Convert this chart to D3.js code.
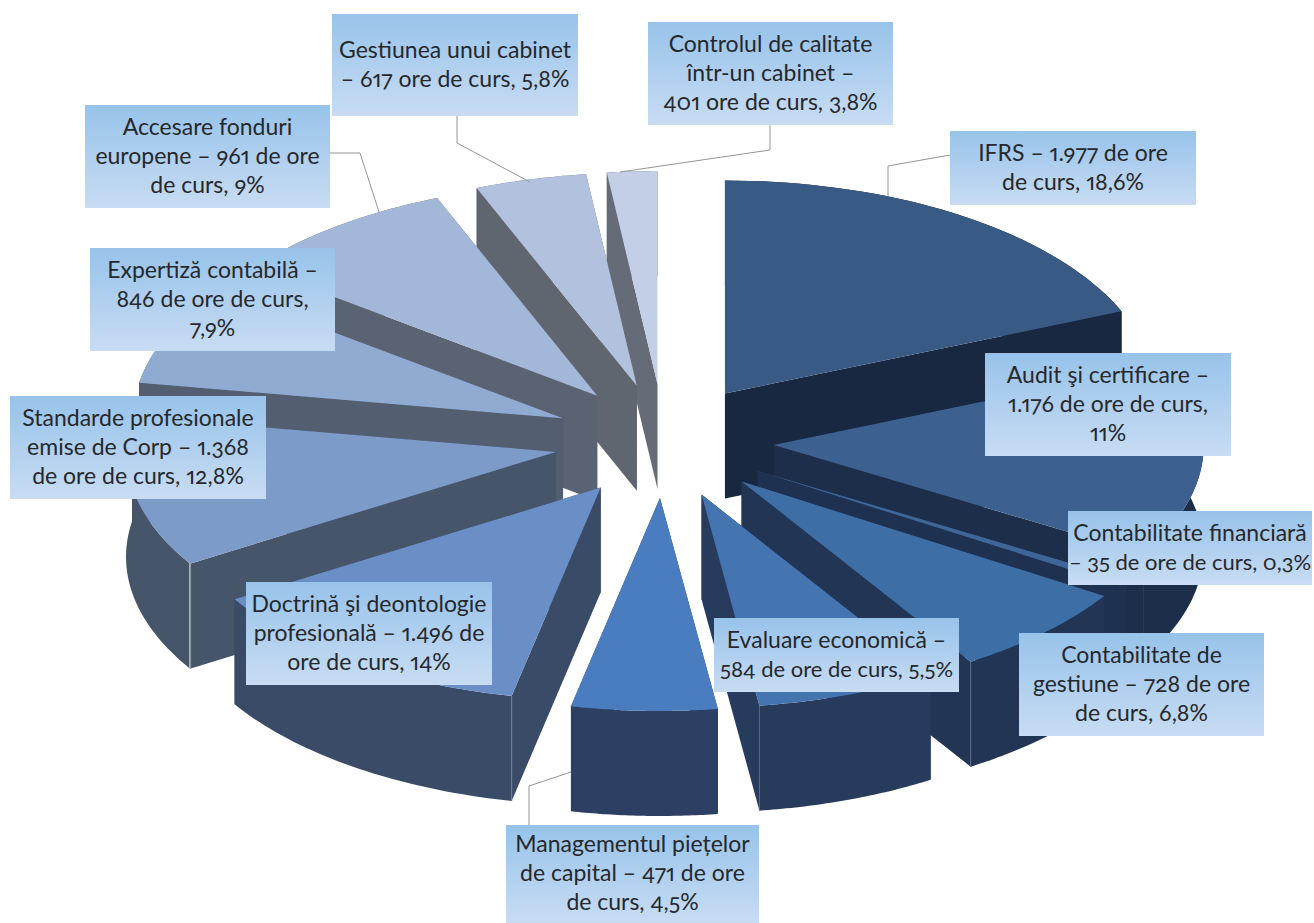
<!DOCTYPE html>
<html>
<head>
<meta charset="utf-8">
<style>
html, body { margin: 0; padding: 0; background: #fff; }
svg { display: block; }
.label text { font-family: Lato, sans-serif; font-size: 23px; fill: #26282c; font-variant-numeric: oldstyle-nums proportional-nums; font-feature-settings: "onum" 1, "pnum" 1; }
</style>
<script src="https://cdn.jsdelivr.net/npm/d3@7"></script>
</head>
<body>
<svg id="chart" width="1314" height="923"></svg>
<script>
// hours per course topic, clockwise from 12 o'clock
var topics = ["IFRS", "Audit", "Contabilitate financiara", "Contabilitate de gestiune", "Evaluare economica",
	"Managementul pietelor", "Doctrina", "Standarde", "Expertiza", "Accesare fonduri", "Gestiunea", "Controlul"];
var hours = [1977, 1176, 35, 728, 584, 471, 1496, 1368, 846, 961, 617, 401];

var labelLines = [
	["IFRS – 1.977 de ore", "de curs, 18,6%"],
	["Audit şi certificare –", "1.176 de ore de curs,", "11%"],
	["Contabilitate financiară", "– 35 de ore de curs, 0,3%"],
	["Contabilitate de", "gestiune – 728 de ore", "de curs, 6,8%"],
	["Evaluare economică –", "584 de ore de curs, 5,5%"],
	["Managementul piețelor", "de capital – 471 de ore", "de curs, 4,5%"],
	["Doctrină şi deontologie", "profesională – 1.496 de", "ore de curs, 14%"],
	["Standarde profesionale", "emise de Corp – 1.368", "de ore de curs, 12,8%"],
	["Expertiză contabilă –", "846 de ore de curs,", "7,9%"],
	["Accesare fonduri", "europene – 961 de ore", "de curs, 9%"],
	["Gestiunea unui cabinet", "– 617 ore de curs, 5,8%"],
	["Controlul de calitate", "într-un cabinet –", "401 ore de curs, 3,8%"]
];

var topColors = ["#385a85", "#3c6090", "#3d6699", "#3e6ea6", "#4475b0", "#4a7dbf", "#6a8ec6", "#7c9bc9", "#90abd1", "#a3b8d8", "#b2c2de", "#c2cfe6"];
var sideColors = ["#172840", "#1d2e4a", "#1f3150", "#223555", "#273b5d", "#2d4063", "#3a4b67", "#465569", "#535e70", "#5a6372", "#5f6670", "#666b78"];

// label box [x, y, w, h]
var labelBoxes = [
	[950, 131, 246, 74], [985, 353, 246, 103], [1068, 511, 244, 74], [1019, 633, 245, 103],
	[714, 618, 245, 74], [506, 825, 253, 98], [246, 582, 246, 103], [10, 396, 256, 103],
	[90, 248, 245, 103], [85, 105, 245, 103], [332, 14, 246, 102], [648, 22, 245, 103]
];
var leaders = [
	[[888, 196], [888, 166], [950, 155]],
	[[457, 116], [457, 143], [530, 182]],
	[[770, 125], [770, 150], [620, 172]],
	[[330, 153], [360, 153], [379, 212]],
	[[571, 772], [529, 786], [529, 825]]
];

var cx = 664, cy = 441, rx = 430, ry = 213, depth = 105;
var explodeX = 110, explodeY = 57;

// the original is drawn in perspective, so pie angles get bent on the way to the ellipse
var lens = d3.scaleLinear()
	.domain([0, 30, 60, 67, 90, 108, 132, 152, 168, 180, 218, 265, 293, 326, 346, 360])
	.range([0, 30, 60.5, 67.5, 97, 123, 147.5, 172.3, 192.1, 203, 238, 280, 307, 338.5, 353, 360]);

var svg = d3.select("#chart");
var defs = svg.append("defs");
var grad = defs.append("linearGradient").attr("id", "boxFill").attr("x1", 0).attr("y1", 0).attr("x2", 0).attr("y2", 1);
grad.append("stop").attr("offset", "0%").attr("stop-color", "#97c3ea");
grad.append("stop").attr("offset", "100%").attr("stop-color", "#c8dcf3");

var pie = d3.pie().sort(null).value(function(d){ return d; });
var deg = 180 / Math.PI;
var slices = pie(hours).map(function(a, i){
	var start = lens(a.startAngle * deg) / deg,
		end = lens(a.endAngle * deg) / deg,
		mid = (start + end) / 2;
	return {
		index: i, start: start, end: end,
		ax: cx + explodeX * Math.sin(mid),
		ay: cy - explodeY * Math.cos(mid)
	};
});

function rimPoint(s, t, drop){
	return [s.ax + rx * Math.sin(t), s.ay - ry * Math.cos(t) + (drop || 0)];
}
function rimPoints(s, drop){
	return d3.range(0, 41).map(function(k){
		return rimPoint(s, s.start + (s.end - s.start) * k / 40, drop);
	});
}
var line = d3.line();

// corners that carry a thin highlight down the wall
var cornerLights = { 7: ["start", "#f2f2f2"], 6: ["start", "#6f7f99"], 3: ["end", "#56688a"], 4: ["end", "#56688a"] };

// far slices first so the near ones paint over them
slices.slice().sort(function(a, b){ return a.ay - b.ay; }).forEach(function(s){
	var g = svg.append("g").attr("class", "slice");
	var top = rimPoints(s, 0), bottom = rimPoints(s, depth).reverse();
	var first = rimPoint(s, s.start), firstLow = rimPoint(s, s.start, depth);
	var last = rimPoint(s, s.end), lastLow = rimPoint(s, s.end, depth);
	var apex = [s.ax, s.ay], apexLow = [s.ax, s.ay + depth];
	var side = sideColors[s.index];
	g.append("path").attr("d", line([apex, first, firstLow, apexLow]) + "Z").attr("fill", side);
	g.append("path").attr("d", line([apex, last, lastLow, apexLow]) + "Z").attr("fill", side);
	g.append("path").attr("d", line(top.concat(bottom)) + "Z").attr("fill", side);
	g.append("path").attr("d", line([apex].concat(top)) + "Z").attr("fill", topColors[s.index]);
	var light = cornerLights[s.index];
	if(light){
		var t = light[0] === "start" ? s.start : s.end;
		g.append("path").attr("d", line([rimPoint(s, t), rimPoint(s, t, depth)]))
			.attr("stroke", light[1]).attr("stroke-width", 1).attr("fill", "none");
	}
});

leaders.forEach(function(l){
	svg.append("path").attr("d", line(l)).attr("fill", "none").attr("stroke", "#959595").attr("stroke-width", 1);
});

labelBoxes.forEach(function(b, i){
	var g = svg.append("g").attr("class", "label");
	g.append("rect").attr("x", b[0]).attr("y", b[1]).attr("width", b[2]).attr("height", b[3]).attr("fill", "url(#boxFill)");
	var lines = labelLines[i], lh = 29;
	lines.forEach(function(t, k){
		var txt = g.append("text")
			.attr("x", b[0] + b[2] / 2)
			.attr("y", b[1] + b[3] / 2 + (k - (lines.length - 1) / 2) * lh + 7)
			.attr("text-anchor", "middle")
			.text(t);
		// the widest line has to stay inside its box
		if(txt.node().getComputedTextLength() > b[2] - 4)
			txt.style("font-size", "22px");
	});
});
</script>
</body>
</html>
